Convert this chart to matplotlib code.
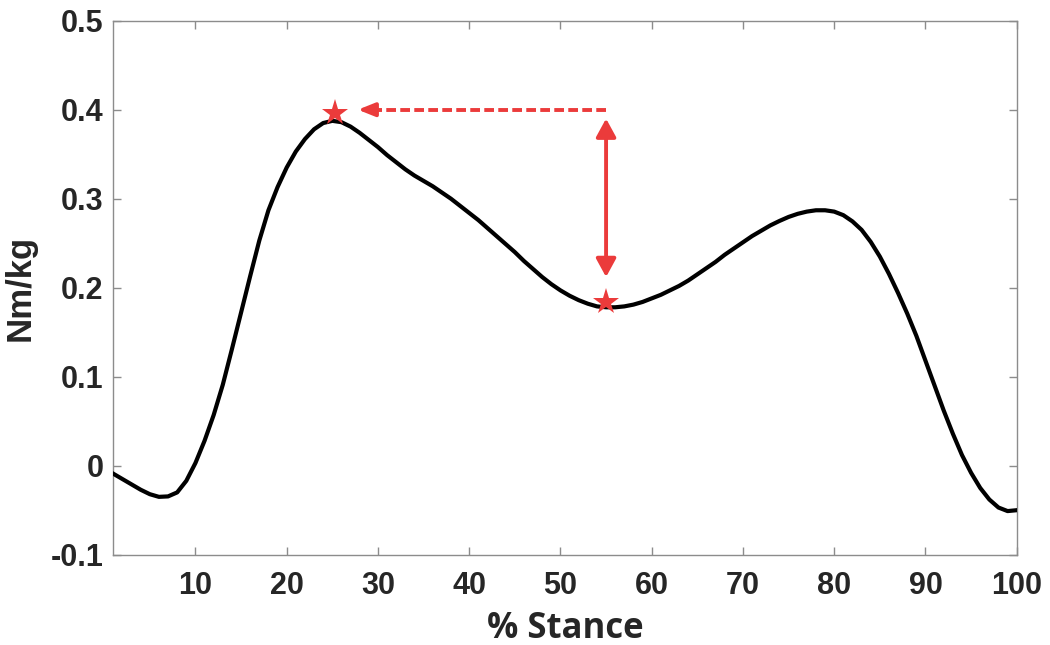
import numpy as np
import matplotlib
matplotlib.use('Agg')
import matplotlib.pyplot as plt

# % stance and moment (Nm/kg)
stance = list(range(1, 101))
moment = [-0.009, -0.015, -0.021, -0.027, -0.032, -0.035, -0.0345, -0.030, -0.017, 0.003,
          0.028, 0.057, 0.091, 0.131, 0.172, 0.213, 0.253, 0.287, 0.313, 0.335,
          0.353, 0.367, 0.378, 0.385, 0.3875, 0.386, 0.381, 0.374, 0.366, 0.358,
          0.349, 0.341, 0.333, 0.326, 0.320, 0.314, 0.307, 0.300, 0.292, 0.284,
          0.276, 0.267, 0.258, 0.249, 0.240, 0.230, 0.221, 0.212, 0.204, 0.197,
          0.191, 0.186, 0.182, 0.179, 0.178, 0.178, 0.179, 0.181, 0.184, 0.188,
          0.192, 0.197, 0.202, 0.208, 0.215, 0.222, 0.229, 0.237, 0.244, 0.251,
          0.258, 0.264, 0.270, 0.275, 0.2795, 0.283, 0.2855, 0.287, 0.287, 0.2855,
          0.2815, 0.2745, 0.265, 0.2515, 0.235, 0.2155, 0.194, 0.171, 0.146, 0.118,
          0.090, 0.062, 0.036, 0.012, -0.008, -0.025, -0.038, -0.047, -0.051, -0.050]

peak_x, peak_y = 25.3, 0.396
valley_x, valley_y = 55, 0.184
ref_level = 0.4
arrow_top, arrow_bottom = 0.39, 0.212

xticks = [10, 20, 30, 40, 50, 60, 70, 80, 90, 100]
yticks = [-0.1, 0, 0.1, 0.2, 0.3, 0.4, 0.5]
ytick_labels = ['-0.1', '0', '0.1', '0.2', '0.3', '0.4', '0.5']

red = '#EB3B3B'
txt = '#262626'

fig = plt.figure(figsize=(10.5, 6.45), dpi=100)
ax = fig.add_axes([0.1079, 0.14, 0.8604, 0.8279])

ax.plot(stance, moment, color='black', lw=3, solid_joinstyle='round', zorder=3)

# dashed reference arrow from valley column back to the peak
ax.plot([valley_x, 29.2], [ref_level, ref_level], color=red, lw=2.8,
        dashes=(2.5, 1.1), dash_capstyle='butt', zorder=4)
ax.annotate('', xy=(27.8, ref_level), xytext=(29.4, ref_level),
            arrowprops=dict(arrowstyle='-|>,head_length=0.5,head_width=0.2',
                            color=red, lw=2.8, shrinkA=0, shrinkB=0,
                            mutation_scale=20), zorder=4)

# double-headed vertical arrow
ax.annotate('', xy=(valley_x, arrow_top), xytext=(valley_x, arrow_bottom),
            arrowprops=dict(arrowstyle='<|-|>,head_length=0.55,head_width=0.3',
                            color=red, lw=2.8, shrinkA=0, shrinkB=0,
                            mutation_scale=20), zorder=4)

ax.plot([peak_x, valley_x], [peak_y, valley_y], ls='none', marker='*',
        markersize=20, color=red, markeredgewidth=0, zorder=5)

ax.set_xlim(1, 100)
ax.set_ylim(-0.1, 0.5)
ax.set_xticks(xticks)
ax.set_xticklabels([str(t) for t in xticks])
ax.set_yticks(yticks)
ax.set_yticklabels(ytick_labels)

for s in ax.spines.values():
    s.set_color('#8c8c8c')
    s.set_linewidth(1.0)

ax.tick_params(axis='both', which='both', direction='in', length=6, width=1,
               color='#8c8c8c', top=True, right=True, labelcolor=txt)
ax.tick_params(axis='x', pad=12)
ax.tick_params(axis='y', pad=7)
for lab in ax.get_xticklabels() + ax.get_yticklabels():
    lab.set_fontfamily('Liberation Sans')
    lab.set_fontweight('bold')
    lab.set_fontsize(22)

ax.set_xlabel('% Stance', fontfamily='Open Sans', fontweight='bold',
              fontsize=25, color=txt, labelpad=7)
ax.set_ylabel('Nm/kg', fontfamily='Liberation Sans', fontweight='bold',
              fontsize=25, color=txt, labelpad=10)

fig.savefig('out.png', dpi=100)
